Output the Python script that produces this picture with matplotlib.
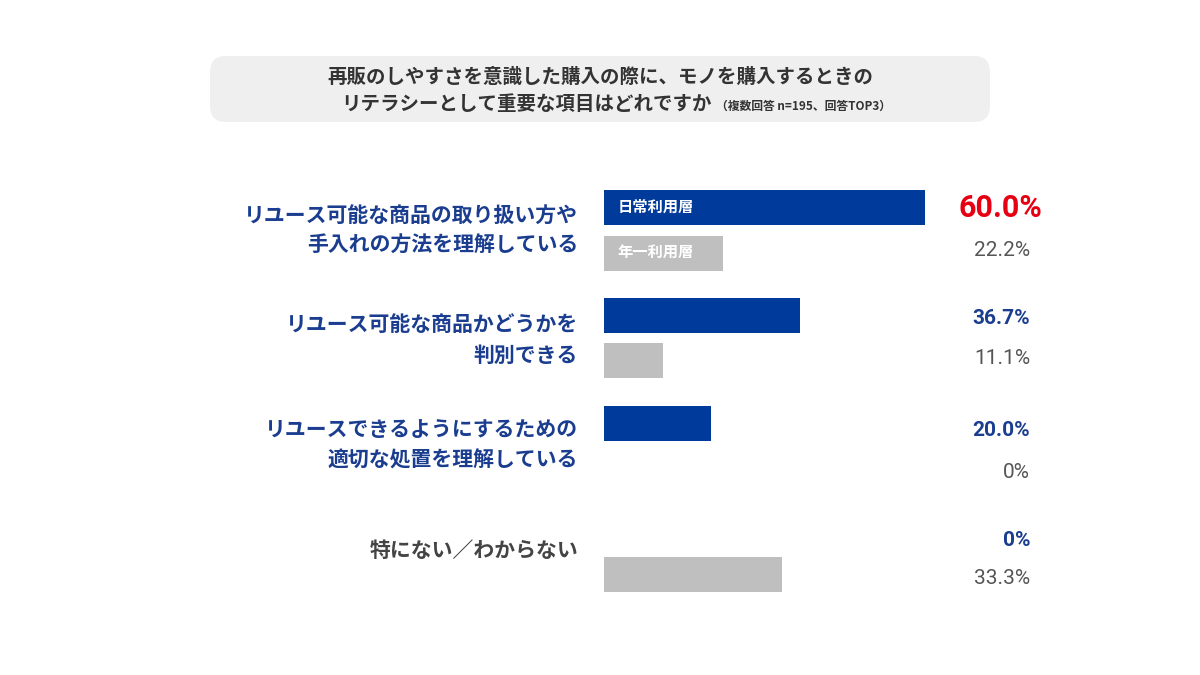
import matplotlib.pyplot as plt
from matplotlib.patches import FancyBboxPatch

plt.rcParams['font.family'] = ['Noto Sans CJK JP', 'DejaVu Sans']

# data
categories = [
    "リユース可能な商品の取り扱い方や\n手入れの方法を理解している",
    "リユース可能な商品かどうかを\n判別できる",
    "リユースできるようにするための\n適切な処置を理解している",
    "特になない／わからない",
]
categories[3] = "特にない／わからない"
daily = [60.0, 36.7, 20.0, 0.0]
yearly = [22.2, 11.1, 0.0, 33.3]
series_names = ["日常利用層", "年一利用層"]

BLUE = "#003a9b"
GRAY = "#bfbfbf"
LABEL_BLUE = "#1a3d8f"
DARK = "#555555"

fig = plt.figure(figsize=(12, 6.75), dpi=100)
bg = fig.add_axes([0, 0, 1, 1])
bg.set_xlim(0, 1200)
bg.set_ylim(675, 0)
bg.axis("off")

# title box
bg.add_patch(FancyBboxPatch((210, 56), 780, 66, boxstyle="round,pad=0,rounding_size=16",
                            fc="#efefef", ec="none", mutation_aspect=1))
bg.text(600, 77, "再販のしやすさを意識した購入の際に、モノを購入するときの",
        ha="center", va="center", fontsize=14, fontweight="bold", color="#333333")
bg.text(712, 105, "リテラシーとして重要な項目はどれですか", ha="right", va="center",
        fontsize=14, fontweight="bold", color="#333333")
bg.text(716, 106, "（複数回答 n=195、回答TOP3）", ha="left", va="center",
        fontsize=8.5, fontweight="bold", color="#333333")

# bar axes: x in percent, y in pixel rows
x0 = 604
px_per_pct = 321 / 60.0
ax = fig.add_axes([x0 / 1200, 0, 100 * px_per_pct / 1200, 1])
ax.set_xlim(0, 100)
ax.set_ylim(675, 0)
ax.axis("off")

blue_y = [207, 315, 423, 540]
gray_y = [253, 360, 470, 574]
h = 35
ax.barh(blue_y, daily, height=h, color=BLUE)
ax.barh(gray_y, yearly, height=h, color=GRAY)
ax.text(2.5, blue_y[0], series_names[0], color="white", fontsize=11, fontweight="bold", va="center")
ax.text(2.5, gray_y[0], series_names[1], color="white", fontsize=11, fontweight="bold", va="center")

# value labels
vx = 1030
blue_label_y = [208, 318, 431, 540]
gray_label_y = [251, 359, 472, 578]
for i, v in enumerate(daily):
    s = f"{v:.1f}%" if v else "0%"
    if i == 0:
        bg.text(vx + 12, blue_label_y[i], s, ha="right", va="center", fontsize=22,
                fontweight="bold", color="#e60012", family=["Roboto", "DejaVu Sans"])
    else:
        bg.text(vx, blue_label_y[i], s, ha="right", va="center", fontsize=15,
                fontweight="bold", color=LABEL_BLUE, family=["Roboto", "DejaVu Sans"])
for i, v in enumerate(yearly):
    s = f"{v:.1f}%" if v else "0%"
    bg.text(vx, gray_label_y[i], s, ha="right", va="center", fontsize=15,
            color=DARK, family=["Roboto", "DejaVu Sans"])

# category labels
cat_y = [230, 340, 445, 550]
for i, c in enumerate(categories):
    col = LABEL_BLUE if i < 3 else "#444444"
    bg.text(578, cat_y[i], c, ha="right", va="center", fontsize=15, fontweight="bold",
            color=col, linespacing=1.55)

fig.savefig("out.png", dpi=100)
